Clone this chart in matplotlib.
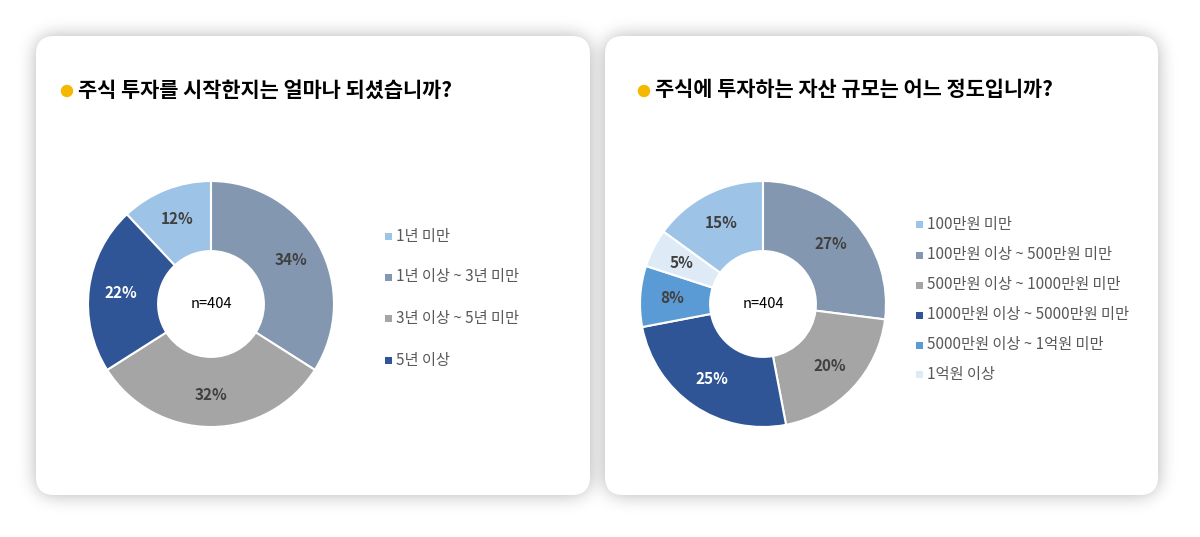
import numpy as np
import matplotlib
matplotlib.use("Agg")
import matplotlib.pyplot as plt
from matplotlib.patches import FancyBboxPatch, Circle, Rectangle

plt.rcParams['font.family'] = ['Noto Sans CJK KR', 'DejaVu Sans']

# ---- data ----
title1 = "주식 투자를 시작한지는 얼마나 되셨습니까?"
labels1 = ["1년 미만", "1년 이상 ~ 3년 미만", "3년 이상 ~ 5년 미만", "5년 이상"]
values1 = [12, 34, 32, 22]
colors1 = ["#9DC3E6", "#8497B0", "#A5A5A5", "#2F5597"]

title2 = "주식에 투자하는 자산 규모는 어느 정도입니까?"
labels2 = ["100만원 미만", "100만원 이상 ~ 500만원 미만", "500만원 이상 ~ 1000만원 미만",
           "1000만원 이상 ~ 5000만원 미만", "5000만원 이상 ~ 1억원 미만", "1억원 이상"]
values2 = [15, 27, 20, 25, 8, 5]
colors2 = ["#9DC3E6", "#8497B0", "#A5A5A5", "#2F5597", "#5B9BD5", "#DEEBF7"]

center_text = "n=404"

W, H = 1200, 537
fig = plt.figure(figsize=(W / 100, H / 100), dpi=100)
fig.patch.set_facecolor("white")

bg = fig.add_axes([0, 0, 1, 1])
bg.set_xlim(0, W)
bg.set_ylim(H, 0)
bg.axis("off")

cards = [(36, 36, 590, 495), (605, 36, 1158, 495)]
rad = 18

# soft shadow via blurred mask
yy, xx = np.mgrid[0:H, 0:W] + 0.5
mask = np.zeros((H, W))
for (x0, y0, x1, y1) in cards:
    cx = np.clip(xx, x0 + rad, x1 - rad)
    cy = np.clip(yy, y0 + rad, y1 - rad)
    d = np.hypot(xx - cx, yy - cy)
    mask = np.maximum(mask, (d <= rad).astype(float))
sig = 9.0
k = np.arange(-30, 31)
g = np.exp(-k ** 2 / (2 * sig ** 2))
g /= g.sum()
pad = np.pad(mask, 30, mode="constant")
b = np.apply_along_axis(lambda r: np.convolve(r, g, mode="same"), 1, pad)
b = np.apply_along_axis(lambda c: np.convolve(c, g, mode="same"), 0, b)
b = b[30:-30, 30:-30]
shade = 1 - 0.30 * b
bg.imshow(shade, cmap="gray", vmin=0, vmax=1, extent=(0, W, H, 0), zorder=0, interpolation="bilinear")

for (x0, y0, x1, y1) in cards:
    bg.add_patch(FancyBboxPatch((x0 + rad, y0 + rad), (x1 - x0) - 2 * rad, (y1 - y0) - 2 * rad,
                                boxstyle=f"round,pad={rad}", fc="white", ec="none", zorder=1))


def panel(title, tx, ty, labels, values, colors, pie_c, leg_x, leg_ys, white_idx):
    bg.add_patch(Circle((tx - 11, ty + 1), 5.5, color="#F5B800", zorder=2))
    bg.text(tx, ty, title, fontsize=15, fontweight="bold", color="black",
            va="center", ha="left", zorder=3)
    r = 123
    cx, cy = pie_c
    ax = fig.add_axes([(cx - r) / W, (H - cy - r) / H, 2 * r / W, 2 * r / H])
    total = sum(values)
    start = 90 + 360 * values[0] / total
    inner = 0.43
    wedges, _ = ax.pie(values, colors=colors, startangle=start, counterclock=False,
                       radius=1, wedgeprops=dict(width=1 - inner, edgecolor="white", linewidth=1.5))
    ax.set_xlim(-1, 1)
    ax.set_ylim(-1, 1)
    ax.set_aspect("equal")
    ax.axis("off")
    for i, (w, v) in enumerate(zip(wedges, values)):
        a = np.deg2rad((w.theta1 + w.theta2) / 2)
        rr = 0.74
        ax.text(rr * np.cos(a), rr * np.sin(a), f"{v}%", ha="center", va="center",
                fontsize=11, fontweight="bold",
                color="white" if i in white_idx else "#404040")
    ax.text(0, 0, center_text, ha="center", va="center", fontsize=10.5, color="black")
    for lab, col, ly in zip(labels, colors, leg_ys):
        bg.add_patch(Rectangle((leg_x, ly - 3.5), 7, 7, fc=col, ec="none", zorder=3))
        bg.text(leg_x + 11, ly, lab, fontsize=11, color="#595959", va="center", ha="left", zorder=3)


panel(title1, 78, 90, labels1, values1, colors1, (211, 304), 385, [236, 277, 318, 360], [3])
panel(title2, 655, 90, labels2, values2, colors2, (763, 304), 916, [224, 255, 285, 315, 345, 374], [3])

fig.savefig("out.png", dpi=100, facecolor="white")
